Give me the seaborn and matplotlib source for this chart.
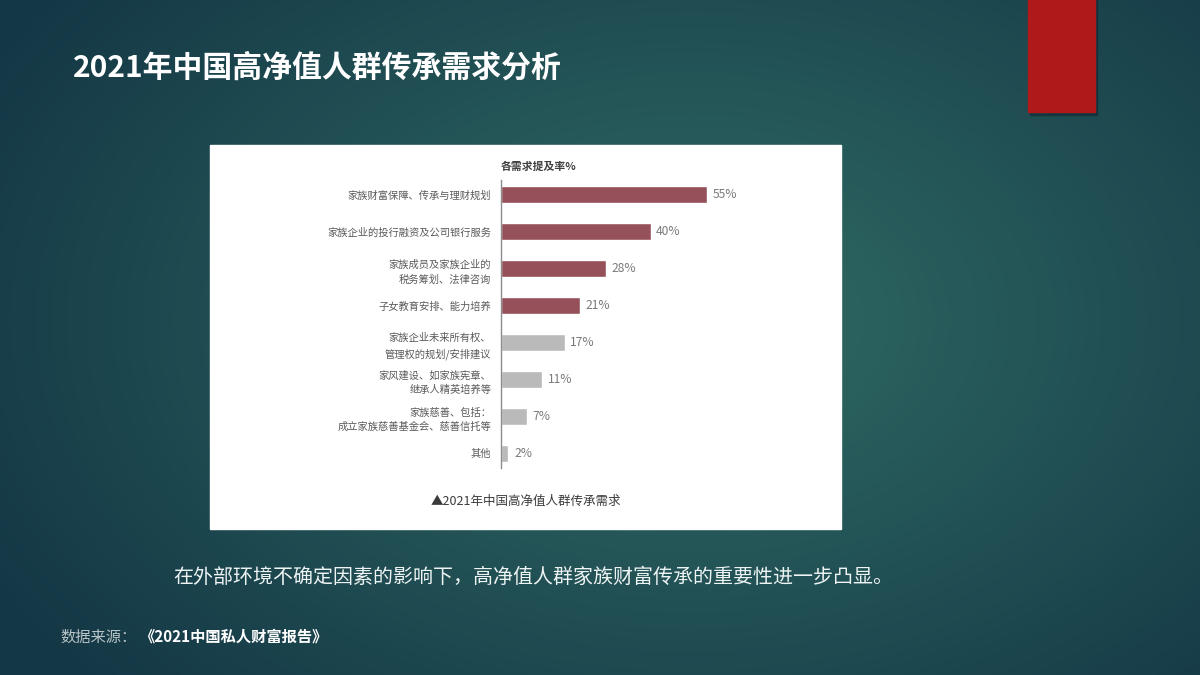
import numpy as np
import pandas as pd
import matplotlib
matplotlib.use("Agg")
import matplotlib.pyplot as plt
from matplotlib.patches import Rectangle
import seaborn as sns

# ---- data ----
categories = [
    "家族财富保障、传承与理财规划",
    "家族企业的投行融资及公司银行服务",
    "家族成员及家族企业的\n税务筹划、法律咨询",
    "子女教育安排、能力培养",
    "家族企业未来所有权、\n管理权的规划/安排建议",
    "家风建设、如家族宪章、\n继承人精英培养等",
    "家族慈善、包括：\n成立家族慈善基金会、慈善信托等",
    "其他",
]
values = [55, 40, 28, 21, 17, 11, 7, 2]
highlight = [True, True, True, True, False, False, False, False]

title = "2021年中国高净值人群传承需求分析"
header = "各需求提及率%"
caption = "▲2021年中国高净值人群传承需求"
summary = "在外部环境不确定因素的影响下，高净值人群家族财富传承的重要性进一步凸显。"
source_label = "数据来源："
source_name = "《2021中国私人财富报告》"

sns.set_theme(style="white")
FAM = ["Noto Sans CJK SC", "DejaVu Sans"]
plt.rcParams["font.family"] = FAM

W, H = 1200, 675
fig = plt.figure(figsize=(12, 6.75), dpi=100)

# ---- background gradient ----
bg = fig.add_axes([0, 0, 1, 1])
bg.set_axis_off()
yy, xx = np.mgrid[0:H, 0:W]
d = np.sqrt(((xx - 690) / 620.0) ** 2 + ((yy - 320) / 420.0) ** 2)
t = np.clip(d, 0, 1.3) / 1.3
c_in = np.array([0x30, 0x6c, 0x65]) / 255.0
c_out = np.array([0x14, 0x37, 0x45]) / 255.0
img = c_in[None, None, :] * (1 - t[..., None]) + c_out[None, None, :] * t[..., None]
bg.imshow(img, extent=[0, W, H, 0], aspect="auto", zorder=0)
bg.set_xlim(0, W)
bg.set_ylim(H, 0)

# red accent block with slight shadow
bg.add_patch(Rectangle((1030, 0), 67, 115, color="#0d2630", alpha=0.5, zorder=1))
bg.add_patch(Rectangle((1028, 0), 67, 112, color="#b0191a", zorder=2))

# white panel
bg.add_patch(Rectangle((210, 145), 631, 384, color="white", zorder=2))

# texts on slide
bg.text(73, 68, title, color="white", fontsize=21.5, fontweight="bold",
        va="center", ha="left", family=FAM, zorder=3)
bg.text(173, 577, summary, color="#eef3f3", fontsize=14.4,
        va="center", ha="left", family=FAM, zorder=3)
bg.text(60, 637, source_label, color="#b8c4c6", fontsize=11,
        va="center", ha="left", family=FAM, zorder=3)
bg.text(139, 637, source_name, color="white", fontsize=11, fontweight="bold",
        va="center", ha="left", family=FAM, zorder=3)
bg.text(501, 167, header, color="#404040", fontsize=7.8, fontweight="bold",
        va="center", ha="left", family=FAM, zorder=3)
bg.text(526, 501, caption, color="#3a3a3a", fontsize=9,
        va="center", ha="center", family=FAM, zorder=3)

# ---- bar chart ----
left_px, right_px = 501, 821
top_px, bot_px = 180, 468
ax = fig.add_axes([left_px / W, 1 - bot_px / H, (right_px - left_px) / W, (bot_px - top_px) / H])
ax.patch.set_alpha(0)

red, gray = "#96505a", "#bababa"
df = pd.DataFrame({"cat": categories, "val": values})
pal = {c: (red if h else gray) for c, h in zip(categories, highlight)}
sns.barplot(data=df, x="val", y="cat", hue="cat", palette=pal, legend=False,
            orient="h", width=0.46, ax=ax, saturation=1)

ax.set_xlim(0, (right_px - left_px) / 3.74)
ax.set_ylim(len(categories) - 0.6, -0.4)
ax.set_xlabel("")
ax.set_ylabel("")
ax.set_xticks([])
for s in ["top", "right", "bottom"]:
    ax.spines[s].set_visible(False)
ax.spines["left"].set_color("#8c8c8c")
ax.spines["left"].set_linewidth(1.0)
ax.tick_params(axis="y", length=0, pad=7)
for lbl in ax.get_yticklabels():
    lbl.set_fontsize(7.4)
    lbl.set_color("#5a5a5a")
    lbl.set_linespacing(1.55)
    lbl.set_family(FAM)

for cont in ax.containers:
    ax.bar_label(cont, fmt="%d%%", padding=4, fontsize=8.7, color="#7a7a7a", family=FAM)

fig.savefig("out.png", dpi=100)
